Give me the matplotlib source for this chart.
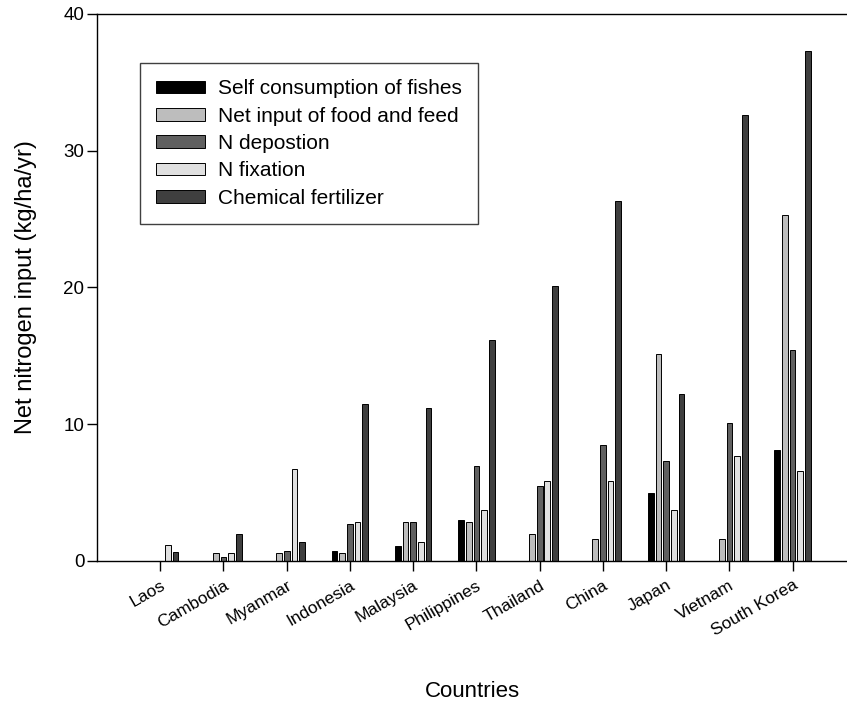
import matplotlib.pyplot as plt
import numpy as np

plt.rcParams['font.family'] = ['Liberation Sans', 'DejaVu Sans']

countries = ["Laos", "Cambodia", "Myanmar", "Indonesia", "Malaysia", "Philippines",
             "Thailand", "China", "Japan", "Vietnam", "South Korea"]

self_fish = [0, 0, 0, 0.7, 1.07, 3.02, 0, 0, 5.0, 0, 8.15]
food_feed = [0, 0.56, 0.56, 0.56, 2.83, 2.83, 1.95, 1.61, 15.1, 1.6, 25.3]
n_depo = [0, 0.27, 0.71, 2.68, 2.83, 6.92, 5.46, 8.48, 7.3, 10.1, 15.4]
n_fix = [1.19, 0.56, 6.74, 2.82, 1.39, 3.71, 5.83, 5.83, 3.7, 7.65, 6.6]
chem_fert = [0.63, 1.95, 1.41, 11.5, 11.17, 16.16, 20.1, 26.3, 12.2, 32.6, 37.3]

series = [
    ("Self consumption of fishes", self_fish, "#000000"),
    ("Net input of food and feed", food_feed, "#bdbdbd"),
    ("N depostion", n_depo, "#606060"),
    ("N fixation", n_fix, "#e0e0e0"),
    ("Chemical fertilizer", chem_fert, "#3f3f3f"),
]

fig = plt.figure(figsize=(8.47, 7.06), dpi=100)
ax = fig.add_axes([0.1145, 0.2054, 0.8855, 0.7748])

x = np.arange(len(countries))
pitch = 0.121
width = 0.09
for i, (name, vals, col) in enumerate(series):
    ax.bar(x + (i - 2) * pitch, vals, width, color=col, edgecolor="black",
           linewidth=0.7, label=name)

ax.set_xlim(-1.0, 10.86)
ax.set_ylim(0, 40)
ax.set_yticks([0, 10, 20, 30, 40])
ax.set_xticks(x)
ax.set_xticklabels(countries, rotation=30, ha="right", rotation_mode="anchor")
ax.tick_params(axis="both", direction="out", length=7, width=1)
ax.tick_params(axis="x", pad=5, labelsize=12.5)
ax.tick_params(axis="y", pad=2, labelsize=13.5)
ax.spines["right"].set_visible(False)
for s in ["left", "bottom", "top"]:
    ax.spines[s].set_linewidth(1)

ax.set_ylabel("Net nitrogen input (kg/ha/yr)", fontsize=17, labelpad=19)
ax.set_xlabel("Countries", fontsize=16, labelpad=30)

leg = ax.legend(loc="upper left", bbox_to_anchor=(0.0573, 0.91), borderaxespad=0,
                fontsize=15, handlelength=2.35, handleheight=0.55,
                handletextpad=0.62, labelspacing=0.4, borderpad=0.78,
                fancybox=False, framealpha=1)
leg.get_frame().set_edgecolor("#404040")
leg.get_frame().set_linewidth(1)

fig.savefig("out.png", dpi=100)
